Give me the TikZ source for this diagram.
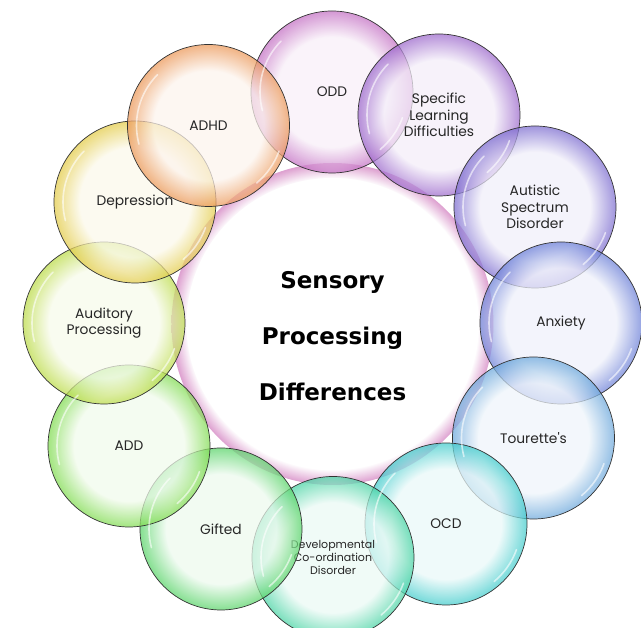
\documentclass[tikz,border=0pt]{standalone}
\usepackage{fontspec}
\setmainfont{Poppins}
\newfontfamily\titlefont{DejaVu Sans}

\definecolor{ringpink}{HTML}{D890C8}
\definecolor{colODD}{HTML}{C470C4}
\definecolor{colSLD}{HTML}{9C68CC}
\definecolor{colASD}{HTML}{7C6CD0}
\definecolor{colANX}{HTML}{6C80D8}
\definecolor{colTOU}{HTML}{6CA8DC}
\definecolor{colOCD}{HTML}{40CCCC}
\definecolor{colDCD}{HTML}{48D4A4}
\definecolor{colGIF}{HTML}{58D468}
\definecolor{colADD}{HTML}{80DC50}
\definecolor{colAUD}{HTML}{BCDC48}
\definecolor{colDEP}{HTML}{E4CC48}
\definecolor{colADHD}{HTML}{EC9858}
\colorlet{bubblein}{white}
\colorlet{bubbleout}{black}

% glassy rim: flat inside, colour builds up near the border
\pgfdeclareradialshading[bubblein,bubbleout]{bubble}{\pgfpoint{0bp}{0bp}}{color(0bp)=(bubblein); color(17bp)=(bubblein); color(25bp)=(bubbleout); color(50bp)=(bubbleout)}
\pgfdeclareradialshading[ringpink]{pinkring}{\pgfpoint{0bp}{0bp}}{color(0bp)=(white); color(22.6bp)=(white); color(25bp)=(ringpink); color(50bp)=(ringpink)}

\newcommand{\labelfont}{\fontsize{13.8}{16.5}\selectfont}
\newcommand{\smalllabelfont}{\fontsize{11}{13}\selectfont}

\tikzset{
    bubble/.style={circle, minimum size=162pt, inner sep=0pt, draw=black!80, line width=0.7pt,
        /utils/exec={\colorlet{bubblein}{#1!11}\colorlet{bubbleout}{#1}},
        shade, shading=bubble, fill opacity=0.72, text opacity=1,
        align=center, font=\labelfont, text=black!85},
    shine/.style={white, line width=1.6pt, line cap=round, opacity=0.6}
}

\begin{document}
\begin{tikzpicture}[x=1pt, y=1pt]
        \useasboundingbox (-332.5,-304) rectangle (308.5,324);
        \fill[white] (-332.5,-304) rectangle (308.5,324);

        % Centre ring
        \shade[shading=pinkring, opacity=0.85] (0,0) circle (161);
        \fill[white] (0,0) circle (146);
        \node[font=\titlefont\bfseries\fontsize{23}{56}\selectfont, align=center] (title) at (0,-12)
            {Sensory\\Processing\\Differences};

        % Outer bubbles, clockwise from the top
        \node[bubble=colODD] (odd) at (-0.5,232) {ODD};
        \node[bubble=colSLD] (sld) at (106.5,209) {Specific\\Learning\\Difficulties};
        \node[bubble=colASD] (asd) at (202.5,117) {Autistic\\Spectrum\\Disorder};
        \node[bubble=colANX] (anx) at (228.5,1) {Anxiety};
        \node[bubble=colTOU] (tou) at (201,-114) {Tourette\textquotesingle s};
        \node[bubble=colOCD] (ocd) at (113.5,-200) {OCD};
        \node[bubble=colDCD, font=\smalllabelfont] (dcd) at (0.5,-233.5) {Developmental\\Co-ordination\\Disorder};
        \node[bubble=colGIF] (gif) at (-111.5,-205) {Gifted};
        \node[bubble=colADD] (add) at (-203.5,-122) {ADD};
        \node[bubble=colAUD] (aud) at (-228.5,1) {Auditory\\Processing};
        \node[bubble=colDEP] (dep) at (-197.5,122) {Depression};
        \node[bubble=colADHD] (adhd) at (-124,198.5) {ADHD};

        % Highlights on the glass
        \foreach \b in {odd,sld,asd,anx,tou,ocd,dcd,gif,add,aud,dep,adhd} {
            \draw[shine] ([shift={(135:72)}]\b.center) arc (135:195:72);
            \draw[shine] ([shift={(-20:75)}]\b.center) arc (-20:-50:75);
        }
    \end{tikzpicture}
\end{document}
